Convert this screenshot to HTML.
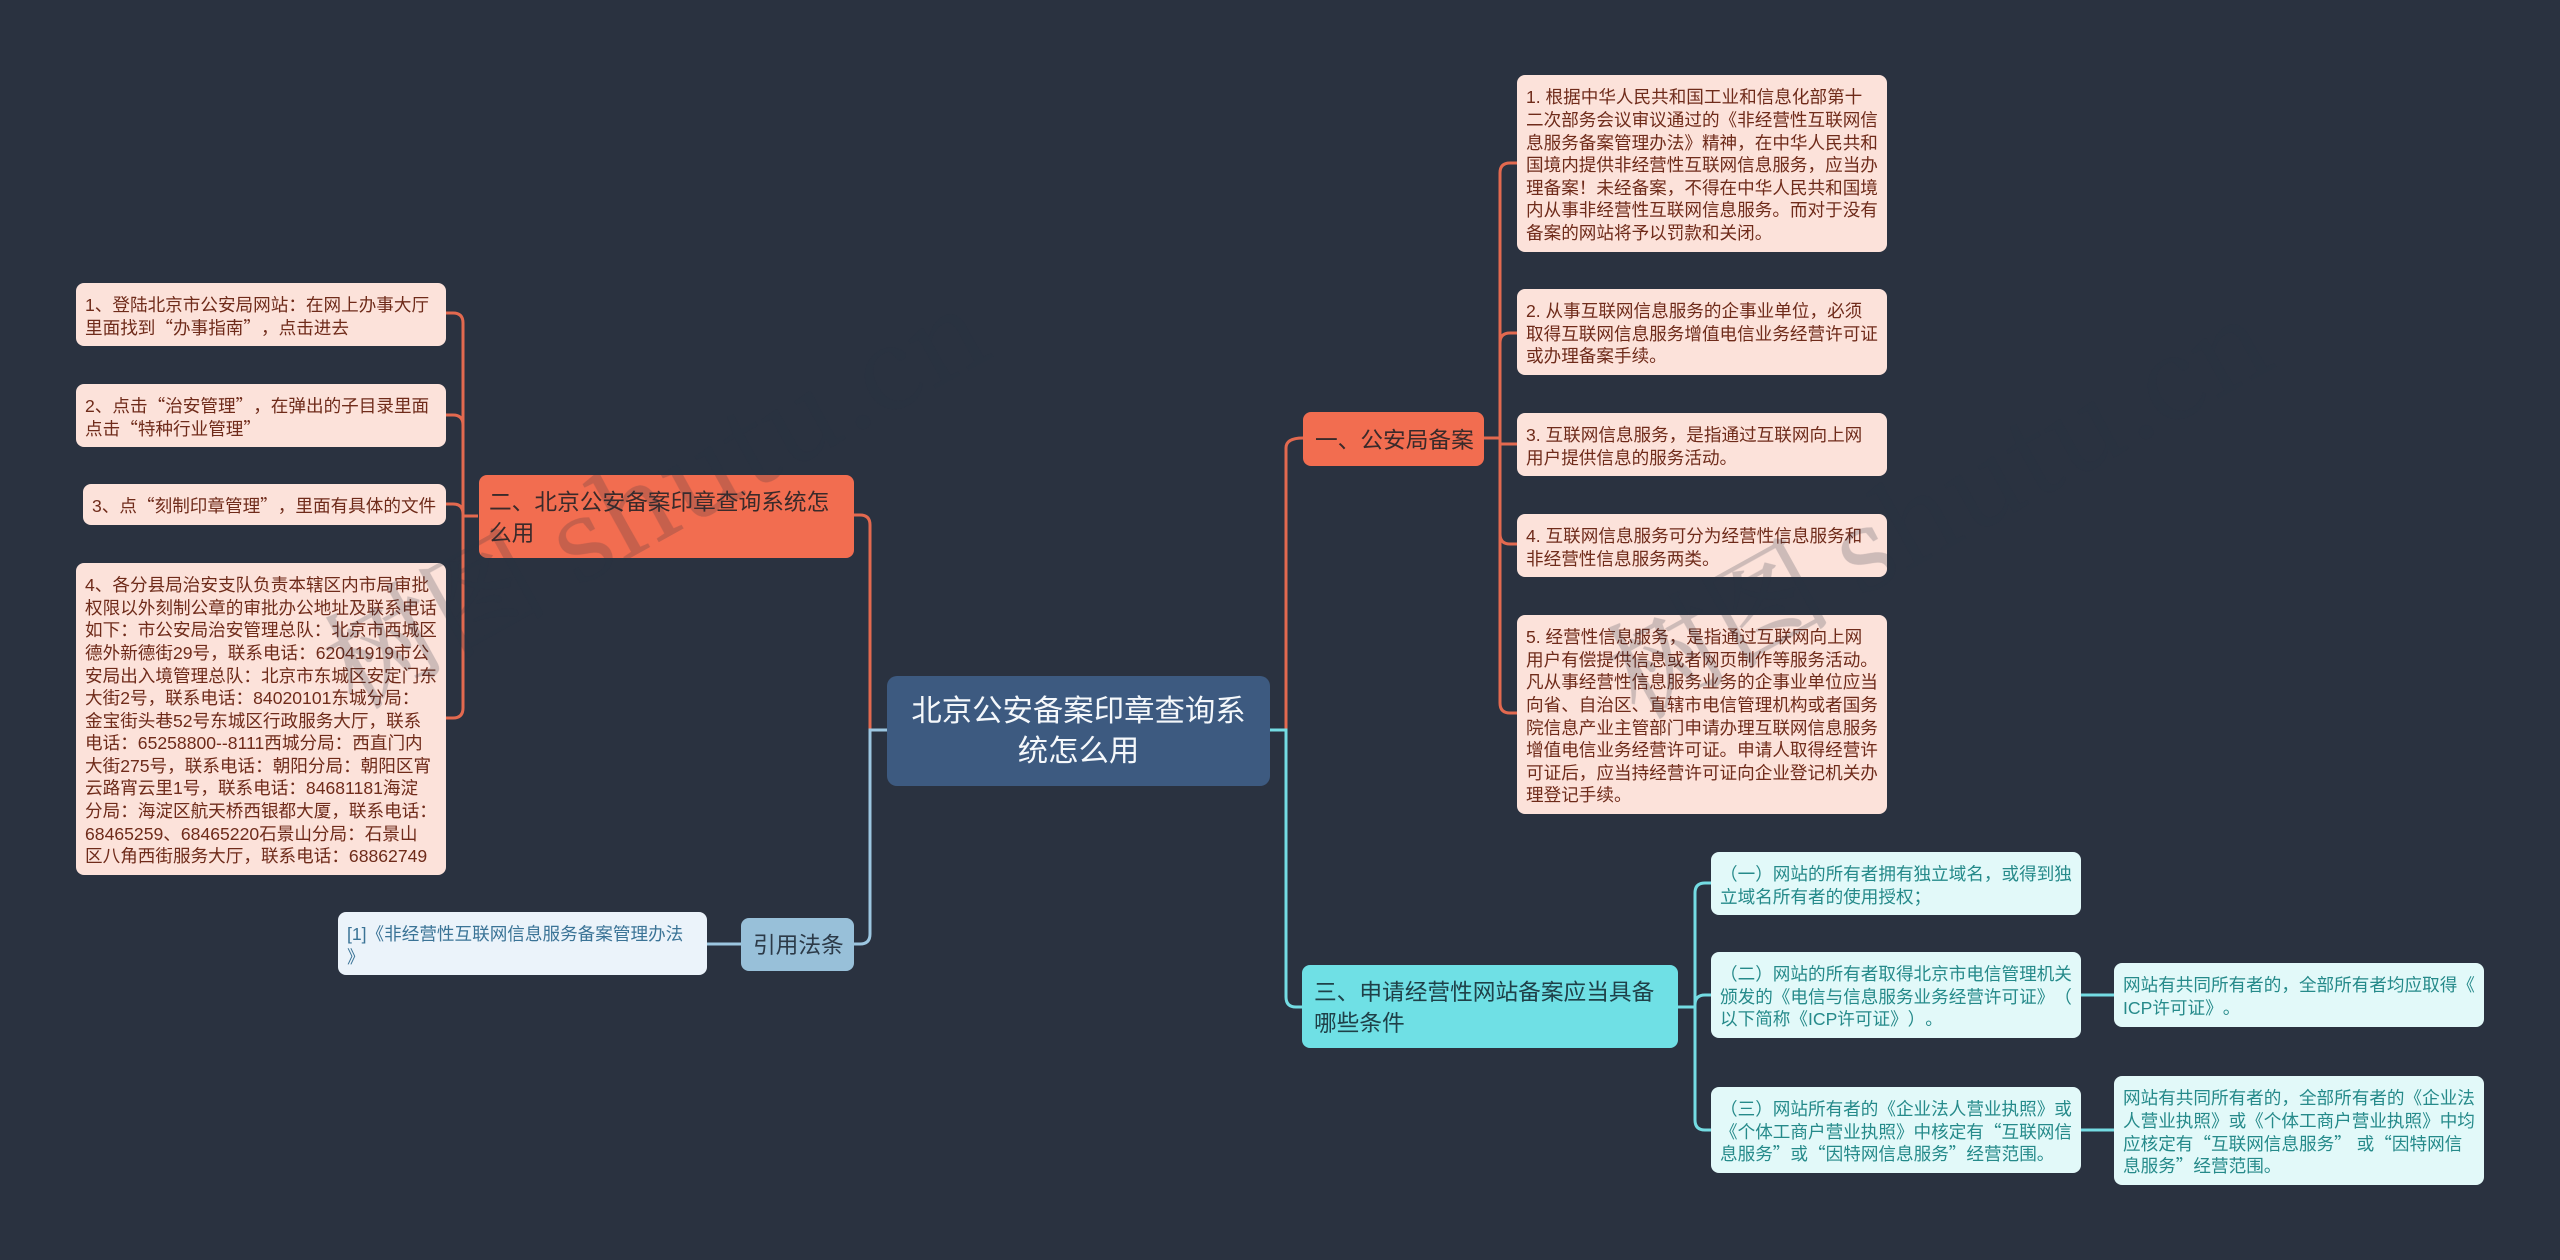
<!DOCTYPE html>
<html lang="zh-CN"><head><meta charset="utf-8"><title>北京公安备案印章查询系统怎么用</title>
<style>
html,body{margin:0;padding:0;background:#2a3240}
body{width:2560px;height:1260px;position:relative;overflow:hidden;font-family:"Liberation Sans","Noto Sans CJK SC",sans-serif;text-spacing-trim:space-all}
svg{position:absolute;left:0;top:0}
.n{position:absolute;box-sizing:border-box;display:flex;align-items:center;white-space:nowrap;font-size:17.6px;line-height:22.6px;padding:0 9px;border-radius:8px}
.n>div{position:relative;top:2px}
.q{font-family:"Noto Sans CJK SC",sans-serif}
.o{background:#fce2da;color:#6f2b1a}
.c{background:#e2f9f9;color:#258a8a}
.m{font-size:22.7px;line-height:30.6px;padding:0 12px;border-radius:8px;color:#3a2a2a}
.m>div{top:1px}
</style></head><body>
<svg width="2560" height="1260" fill="none" stroke-width="3">
<g stroke="#e3694f">
<path d="M1286 730V448Q1286 438 1303 438"/>
<path d="M1484 438H1500"/>
<path d="M1517 163H1510Q1500 163 1500 173V703Q1500 713 1510 713H1517"/>
<path d="M1500 343Q1500 333 1510 333H1517"/>
<path d="M1500 444H1517"/>
<path d="M1500 534Q1500 544 1510 544H1517"/>
<path d="M870 730V525Q870 515 860 515H854"/>
<path d="M478 516H463"/>
<path d="M446 313H453Q463 313 463 323V708Q463 718 453 718H446"/>
<path d="M446 415H453Q463 415 463 425"/>
<path d="M446 504H453Q463 504 463 514"/>
</g>
<g stroke="#74dce3">
<path d="M1270 730H1286V997Q1286 1007 1296 1007H1303"/>
<path d="M1678 1007H1695"/>
<path d="M1711 883H1705Q1695 883 1695 893V1120Q1695 1130 1705 1130H1711"/>
<path d="M1711 995H1705Q1695 995 1695 1005"/>
<path d="M2081 995H2114"/>
<path d="M2081 1130H2114"/>
</g>
<g stroke="#9cc6e0">
<path d="M887 730H870V934Q870 944 860 944H854"/>
<path d="M707 944H741"/>
</g>
</svg>

<div class="n" style="left:887px;top:676px;width:383px;height:110px;background:#3d5a80;color:#f5f8fb;font-size:30.4px;line-height:40px;justify-content:center;text-align:center;border-radius:10px"><div style="top:0">北京公安备案印章查询系<br>统怎么用</div></div>

<div class="n m" style="left:1303px;top:412px;width:181px;height:54px;background:#f26d50"><div>一、公安局备案</div></div>
<div class="n m" style="left:479px;top:475px;width:375px;height:83px;background:#f26d50;padding-left:10px"><div>二、北京公安备案印章查询系统怎<br>么用</div></div>
<div class="n m" style="left:741px;top:918px;width:113px;height:53px;background:#98c0d9;color:#2c3a48"><div>引用法条</div></div>
<div class="n m" style="left:1302px;top:965px;width:376px;height:83px;background:#6fe0e5;color:#1f4048"><div>三、申请经营性网站备案应当具备<br>哪些条件</div></div>

<div class="n o" style="left:1517px;top:75px;width:370px;height:177px"><div>1. 根据中华人民共和国工业和信息化部第十<br>二次部务会议审议通过的《非经营性互联网信<br>息服务备案管理办法》精神，在中华人民共和<br>国境内提供非经营性互联网信息服务，应当办<br>理备案！未经备案，不得在中华人民共和国境<br>内从事非经营性互联网信息服务。而对于没有<br>备案的网站将予以罚款和关闭。</div></div>
<div class="n o" style="left:1517px;top:289px;width:370px;height:86px"><div>2. 从事互联网信息服务的企事业单位，必须<br>取得互联网信息服务增值电信业务经营许可证<br>或办理备案手续。</div></div>
<div class="n o" style="left:1517px;top:413px;width:370px;height:63px"><div>3. 互联网信息服务，是指通过互联网向上网<br>用户提供信息的服务活动。</div></div>
<div class="n o" style="left:1517px;top:514px;width:370px;height:63px"><div>4. 互联网信息服务可分为经营性信息服务和<br>非经营性信息服务两类。</div></div>
<div class="n o" style="left:1517px;top:615px;width:370px;height:199px"><div>5. 经营性信息服务，是指通过互联网向上网<br>用户有偿提供信息或者网页制作等服务活动。<br>凡从事经营性信息服务业务的企事业单位应当<br>向省、自治区、直辖市电信管理机构或者国务<br>院信息产业主管部门申请办理互联网信息服务<br>增值电信业务经营许可证。申请人取得经营许<br>可证后，应当持经营许可证向企业登记机关办<br>理登记手续。</div></div>

<div class="n o" style="left:76px;top:283px;width:370px;height:63px"><div>1、登陆北京市公安局网站：在网上办事大厅<br>里面找到<span class="q">“</span>办事指南<span class="q">”</span>，点击进去</div></div>
<div class="n o" style="left:76px;top:384px;width:370px;height:63px"><div>2、点击<span class="q">“</span>治安管理<span class="q">”</span>，在弹出的子目录里面<br>点击<span class="q">“</span>特种行业管理<span class="q">”</span></div></div>
<div class="n o" style="left:83px;top:484px;width:363px;height:41px"><div>3、点<span class="q">“</span>刻制印章管理<span class="q">”</span>，里面有具体的文件</div></div>
<div class="n o" style="left:76px;top:563px;width:370px;height:312px"><div>4、各分县局治安支队负责本辖区内市局审批<br>权限以外刻制公章的审批办公地址及联系电话<br>如下：市公安局治安管理总队：北京市西城区<br>德外新德街29号，联系电话：62041919市公<br>安局出入境管理总队：北京市东城区安定门东<br>大街2号，联系电话：84020101东城分局：<br>金宝街头巷52号东城区行政服务大厅，联系<br>电话：65258800--8111西城分局：西直门内<br>大街275号，联系电话：朝阳分局：朝阳区宵<br>云路宵云里1号，联系电话：84681181海淀<br>分局：海淀区航天桥西银都大厦，联系电话：<br>68465259、68465220石景山分局：石景山<br>区八角西街服务大厅，联系电话：68862749</div></div>
<div class="n" style="left:338px;top:912px;width:369px;height:63px;background:#ebf3fa;color:#3a7396"><div>[1]《非经营性互联网信息服务备案管理办法<br>》</div></div>

<div class="n c" style="left:1711px;top:852px;width:370px;height:63px"><div>（一）网站的所有者拥有独立域名，或得到独<br>立域名所有者的使用授权；</div></div>
<div class="n c" style="left:1711px;top:952px;width:370px;height:86px"><div>（二）网站的所有者取得北京市电信管理机关<br>颁发的《电信与信息服务业务经营许可证》（<br>以下简称《ICP许可证》）。</div></div>
<div class="n c" style="left:1711px;top:1087px;width:370px;height:86px"><div>（三）网站所有者的《企业法人营业执照》或<br>《个体工商户营业执照》中核定有<span class="q">“</span>互联网信<br>息服务<span class="q">”</span>或<span class="q">“</span>因特网信息服务<span class="q">”</span>经营范围。</div></div>
<div class="n c" style="left:2114px;top:963px;width:370px;height:64px"><div>网站有共同所有者的，全部所有者均应取得《<br>ICP许可证》。</div></div>
<div class="n c" style="left:2114px;top:1076px;width:370px;height:109px"><div>网站有共同所有者的，全部所有者的《企业法<br>人营业执照》或《个体工商户营业执照》中均<br>应核定有<span class="q">“</span>互联网信息服务<span class="q">”</span> 或<span class="q">“</span>因特网信<br>息服务<span class="q">”</span>经营范围。</div></div>

<svg width="2560" height="1260" style="pointer-events:none">
<g opacity=".22" fill="#2a3240" stroke="#2a3240" stroke-width="1" font-size="112" font-family="'Noto Serif CJK SC','Liberation Serif',serif">
<text x="355" y="710" transform="rotate(-29 355 710)">树图 shutu.cn</text>
<text x="1638" y="720" transform="rotate(-29 1638 720)">树图 shutu.cn</text>
</g>
</svg>
</body></html>
